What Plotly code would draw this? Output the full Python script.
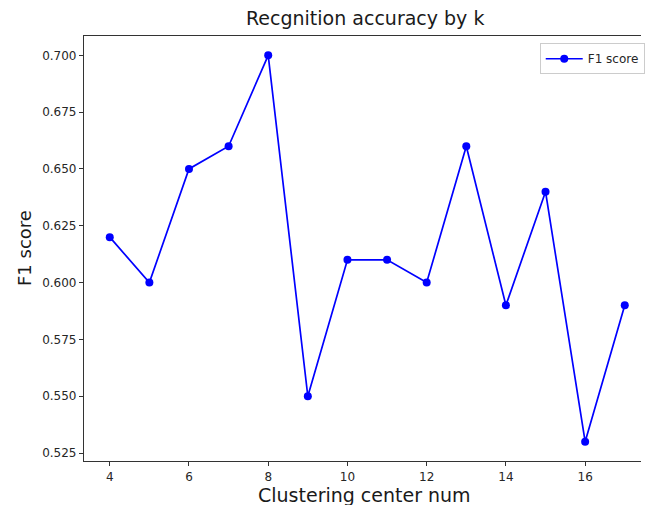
import plotly.graph_objects as go

k_values = [4, 5, 6, 7, 8, 9, 10, 11, 12, 13, 14, 15, 16, 17]
f1_scores = [0.62, 0.60, 0.65, 0.66, 0.70, 0.55, 0.61, 0.61, 0.60, 0.66, 0.59, 0.64, 0.53, 0.59]
x_ticks = [4, 6, 8, 10, 12, 14, 16]
y_ticks = [0.525, 0.550, 0.575, 0.600, 0.625, 0.650, 0.675, 0.700]

FONT = "DejaVu Sans"

fig = go.Figure()
fig.add_trace(go.Scatter(
    x=k_values, y=f1_scores, mode="lines+markers", name="F1 score",
    line=dict(color="#0000ff", width=1.7),
    marker=dict(color="#0000ff", size=8),
))

fig.update_layout(
    width=645, height=505,
    margin=dict(l=84, r=0, t=36, b=44),
    paper_bgcolor="white", plot_bgcolor="white",
    font=dict(family=FONT, color="#262626", size=12),
    showlegend=True,
    legend=dict(x=(543 - 84) / 561, y=0.983, xanchor="left", yanchor="top",
                bordercolor="#cccccc", borderwidth=1, bgcolor="white",
                font=dict(family=FONT, size=12, color="#262626"),
                itemwidth=37, tracegroupgap=0,
                entrywidth=115, entrywidthmode="pixels"),
    xaxis=dict(range=[3.35, 17.41], tickvals=x_ticks, showgrid=False, zeroline=False,
               showline=True, linecolor="#333333", linewidth=1.2, mirror=True,
               ticks="outside", ticklen=4, tickcolor="#333333",
               tickfont=dict(family=FONT, size=12, color="#262626")),
    yaxis=dict(range=[0.5215, 0.7085], tickvals=y_ticks, tickformat=".3f",
               showgrid=False, zeroline=False,
               showline=True, linecolor="#333333", linewidth=1.2,
               ticks="outside", ticklen=4, tickcolor="#333333",
               tickfont=dict(family=FONT, size=12, color="#262626")),
    annotations=[
        dict(text="Recgnition accuracy by k", xref="paper", yref="paper",
             x=(367 - 84) / 561, y=1, yshift=5, xanchor="center", yanchor="bottom",
             showarrow=False, font=dict(family=FONT, size=19, color="#1a1a1a")),
        dict(text="Clustering center num", xref="paper", yref="paper",
             x=(367 - 84) / 561, y=0, yshift=-21, xanchor="center", yanchor="top",
             showarrow=False, font=dict(family=FONT, size=19, color="#1a1a1a")),
        dict(text="F1 score", xref="paper", yref="paper",
             x=0, xshift=-72, y=0.5, xanchor="left", yanchor="middle", textangle=-90,
             showarrow=False, font=dict(family=FONT, size=18, color="#1a1a1a")),
    ],
)

fig.write_html("out.html")
